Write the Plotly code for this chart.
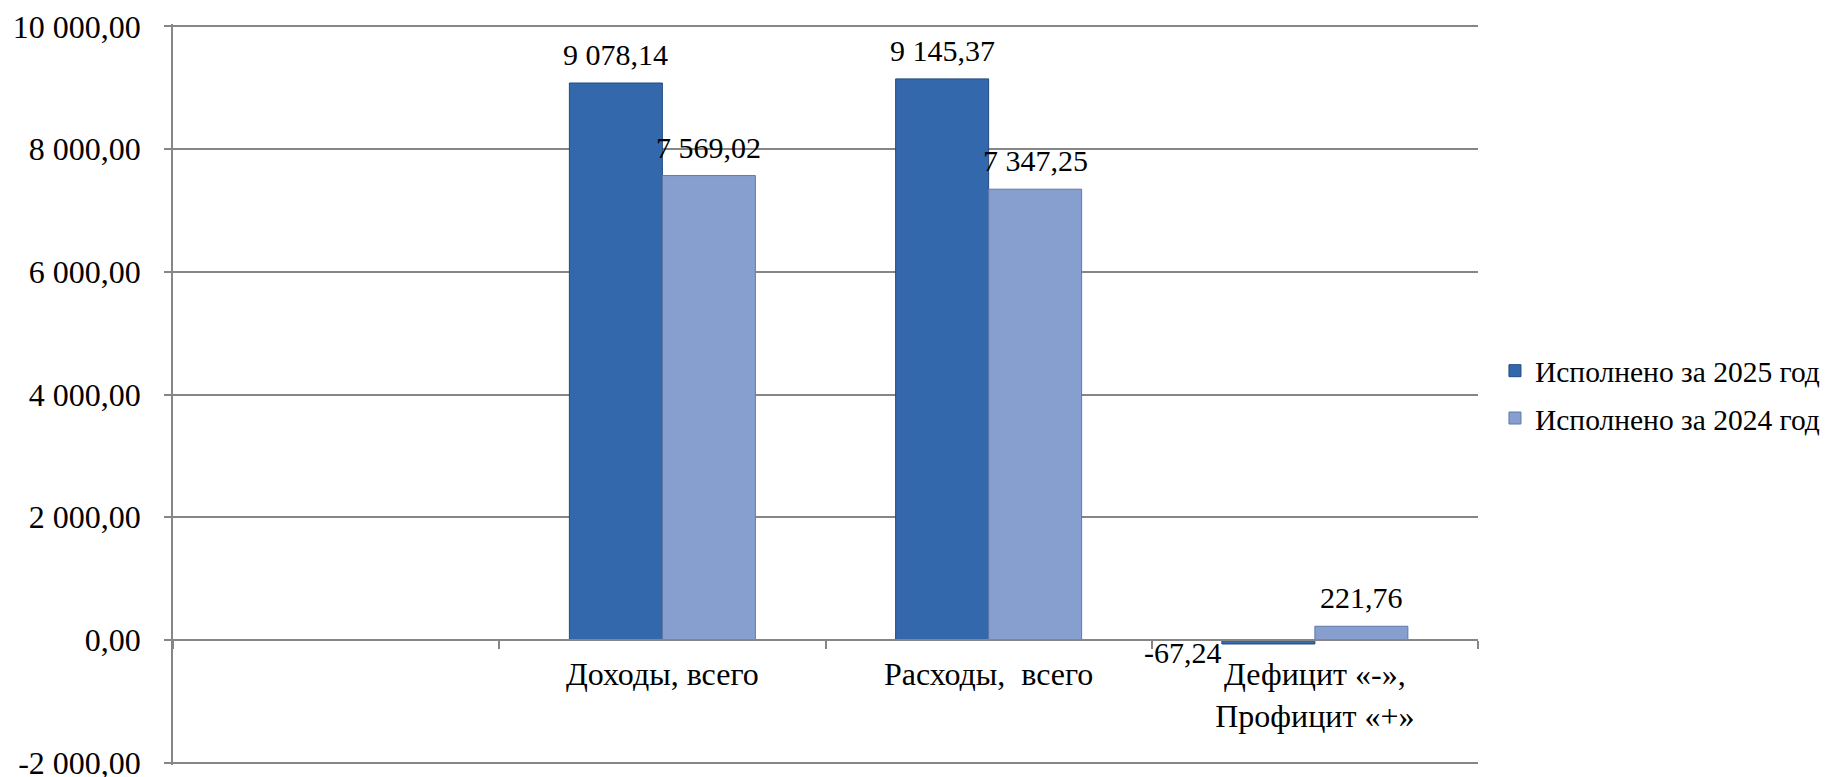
import plotly.graph_objects as go

categories = ["", "Доходы, всего", "Расходы,  всего", "Дефицит «-»,<br>Профицит «+»"]
cat_ids = ["c0", "c1", "c2", "c3"]
series_names = ["Исполнено за 2025 год", "Исполнено за 2024 год"]
values_2025 = [None, 9078.14, 9145.37, -67.24]
values_2024 = [None, 7569.02, 7347.25, 221.76]
y_tickvals = [-2000, 0, 2000, 4000, 6000, 8000, 10000]


def fmt(v):
    s = f"{abs(v):,.2f}".replace(",", " ").replace(".", ",")
    return ("-" if v < 0 else "") + s


FONT = "Liberation Serif, Times New Roman, serif"
W, H = 1834, 777
ML, MR, MT, MB = 165, 364, 16, 20
plot_w = W - ML - MR
BARGAP = 0.43
cat_w = plot_w / len(cat_ids)
bar_w = cat_w * (1 - BARGAP) / 2
colors = ["#3468AC", "#879FCE"]
line_colors = ["#234A80", "#5F79A8"]

fig = go.Figure()
for k, (name, vals) in enumerate(zip(series_names, [values_2025, values_2024])):
    fig.add_trace(go.Bar(
        x=cat_ids, y=vals, name=name,
        marker=dict(color=colors[k], line=dict(color=line_colors[k], width=1)),
        legendgroup=name,
    ))
    offset = (-0.5 if k == 0 else 0.5) * bar_w
    for i, v in enumerate(vals):
        if v is None:
            continue
        if v >= 0:
            fig.add_annotation(
                x=cat_ids[i], y=v, text=fmt(v), showarrow=False,
                xanchor="center", yanchor="bottom", xshift=offset, yshift=10,
                font=dict(family=FONT, size=30, color="#000000"),
            )
        else:
            fig.add_annotation(
                x=cat_ids[i], y=0, text=fmt(v), showarrow=False,
                xanchor="right", yanchor="middle", xshift=offset - bar_w / 2 + 2, yshift=-13,
                font=dict(family=FONT, size=30, color="#000000"),
            )

ymin, ymax = -2000, 10000
pad = 40
zero_frac = (0 - (ymin - pad)) / ((ymax + pad) - (ymin - pad))

fig.update_layout(
    width=W, height=H,
    margin=dict(l=ML, r=MR, t=MT, b=MB, autoexpand=False),
    paper_bgcolor="white", plot_bgcolor="white",
    barmode="group", bargap=BARGAP, bargroupgap=0.0,
    font=dict(family=FONT, size=32, color="#000000"),
    showlegend=True,
    legend=dict(
        x=1.013, xanchor="left", y=0.5, yanchor="middle",
        font=dict(family=FONT, size=29.5, color="#000000"),
        traceorder="grouped", tracegroupgap=6,
        bgcolor="rgba(0,0,0,0)",
    ),
    xaxis=dict(
        type="category",
        tickmode="array", tickvals=cat_ids, ticktext=categories,
        anchor="free", position=zero_frac,
        showline=True, linecolor="#868686", linewidth=1.5,
        ticks="outside", tickson="boundaries", ticklen=8, tickcolor="#868686", tickwidth=1.5,
        showgrid=False, zeroline=False,
        tickfont=dict(family=FONT, size=32, color="#000000"),
        ticklabelstandoff=6,
    ),
    yaxis=dict(
        range=[ymin - pad, ymax + pad], domain=[0, 1],
        tickmode="array", tickvals=y_tickvals, ticktext=[fmt(v) for v in y_tickvals],
        showgrid=True, gridcolor="#868686", gridwidth=1.5,
        showline=True, linecolor="#868686", linewidth=1.5,
        ticks="outside", ticklen=7, tickcolor="#868686", tickwidth=1.5,
        zeroline=False,
        tickfont=dict(family=FONT, size=32, color="#000000"),
        ticklabelstandoff=17,
    ),
)

fig.write_html("out.html")
